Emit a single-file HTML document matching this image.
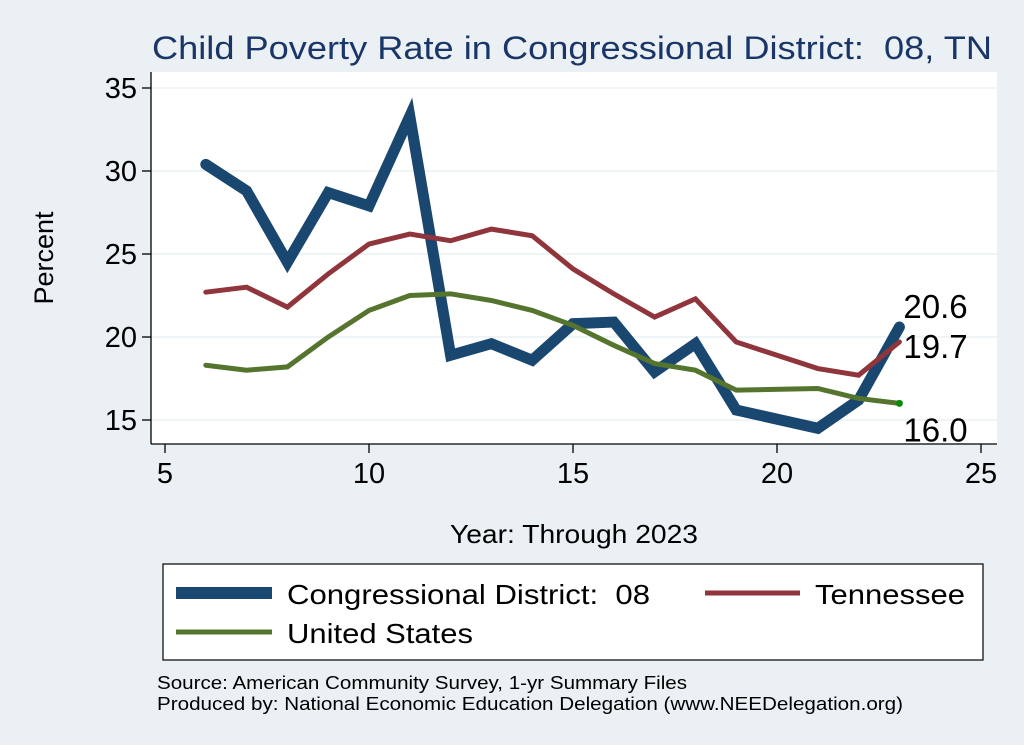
<!DOCTYPE html>
<html><head><meta charset="utf-8"><style>
body{margin:0;background:#eaf0f3;}
svg{display:block;font-family:"Liberation Sans",sans-serif;}
text{white-space:pre;}
</style></head><body>
<svg id="c" width="1024" height="745">
<rect x="0" y="0" width="1024" height="745" fill="#eaf0f3"/>
<text x="152" y="59" font-size="32" fill="#1a3668" textLength="840" lengthAdjust="spacingAndGlyphs">Child Poverty Rate in Congressional District:  08, TN</text>
<rect x="151" y="72" width="846" height="372" fill="#fff"/>
<g id="grid"></g>
<line x1="151" y1="72" x2="151" y2="444" stroke="#000" stroke-width="1.3"/>
<line x1="151" y1="444" x2="997" y2="444" stroke="#000" stroke-width="1.3"/>
<g id="ticks"></g>
<g id="series"></g>
<text x="53" y="258" font-size="27" text-anchor="middle" transform="rotate(-90 53 258)">Percent</text>
<text x="450" y="543" font-size="26" textLength="248" lengthAdjust="spacingAndGlyphs">Year: Through 2023</text>
<g>
<rect x="163" y="564" width="820" height="96" fill="#fff" stroke="#000" stroke-width="1.2"/>
<line x1="176" y1="593" x2="272" y2="593" stroke="#1a476f" stroke-width="12"/>
<text x="287" y="604" font-size="28" textLength="363" lengthAdjust="spacingAndGlyphs">Congressional District:  08</text>
<line x1="705" y1="593" x2="800" y2="593" stroke="#90353b" stroke-width="5"/>
<text x="815" y="604" font-size="28" textLength="150" lengthAdjust="spacingAndGlyphs">Tennessee</text>
<line x1="176" y1="632" x2="272" y2="632" stroke="#55752f" stroke-width="5"/>
<text x="287" y="643" font-size="28" textLength="186" lengthAdjust="spacingAndGlyphs">United States</text>
</g>
<text x="157" y="689" font-size="18" textLength="530" lengthAdjust="spacingAndGlyphs">Source: American Community Survey, 1-yr Summary Files</text>
<text x="157" y="710" font-size="18" textLength="746" lengthAdjust="spacingAndGlyphs">Produced by: National Economic Education Delegation (www.NEEDelegation.org)</text>
</svg>
<script>
const years=[6,7,8,9,10,11,12,13,14,15,16,17,18,19,21,22,23];
const district=[30.4,28.8,24.5,28.7,27.9,33.3,18.9,19.6,18.6,20.8,20.9,17.9,19.6,15.6,14.5,16.2,20.6];
const tennessee=[22.7,23.0,21.8,23.8,25.6,26.2,25.8,26.5,26.1,24.1,22.6,21.2,22.3,19.7,18.1,17.7,19.7];
const us=[18.3,18.0,18.2,20.0,21.6,22.5,22.6,22.2,21.6,20.7,19.5,18.4,18.0,16.8,16.9,16.3,16.0];
const xTicks=[5,10,15,20,25];
const yTicks=[15,20,25,30,35];
const NS="http://www.w3.org/2000/svg";
const X=v=>165+(v-5)*40.8;
const Y=v=>420-(v-15)*16.6;
function mk(t,a,p){const e=document.createElementNS(NS,t);for(const k in a)e.setAttribute(k,a[k]);p.appendChild(e);return e;}
const grid=document.getElementById('grid'),ticks=document.getElementById('ticks'),ser=document.getElementById('series');
yTicks.forEach(v=>{
 const g=mk('line',{x1:151,x2:997,y1:Y(v),y2:Y(v),stroke:'#eaf0f3','stroke-width':1.5},grid);
 
 
 const t=mk('line',{x1:142,x2:151,y1:Y(v),y2:Y(v),stroke:'#000','stroke-width':1.3},ticks);
 
 
 const l=mk('text',{x:137,y:Y(v)+10,'font-size':29,'text-anchor':'end'},ticks);l.textContent=v;
 
 
});
xTicks.forEach(v=>{
 const t=mk('line',{x1:X(v),x2:X(v),y1:444,y2:453,stroke:'#000','stroke-width':1.3},ticks);
 
 
 const l=mk('text',{x:X(v),y:483,'font-size':29,'text-anchor':'middle'},ticks);l.textContent=v;
 
 
});
function line(vals,color,w,name){
 const p=mk('polyline',{points:years.map((y,i)=>X(y)+','+Y(vals[i])).join(' '),fill:'none',stroke:color,'stroke-width':w,'stroke-linejoin':'miter','stroke-linecap':'round'},ser);
 
 
}
line(district,'#1a476f',11,'line-district');
line(tennessee,'#90353b',5,'line-tennessee');
line(us,'#55752f',5,'line-us');
const last=years.length-1;
const dot=mk('circle',{cx:X(years[last]),cy:Y(us[last]),r:3.5,fill:'#0a8a0a'},ser);


[[district,Y(district[last])-9,'label-district'],[tennessee,Y(tennessee[last])+16,'label-tennessee'],[us,Y(us[last])+38,'label-us']].forEach(([arr,y,n])=>{
 const t=mk('text',{x:X(years[last])+4,y:y,'font-size':33},ser);t.textContent=arr[last].toFixed(1);
 
 
});
</script>
</body></html>
